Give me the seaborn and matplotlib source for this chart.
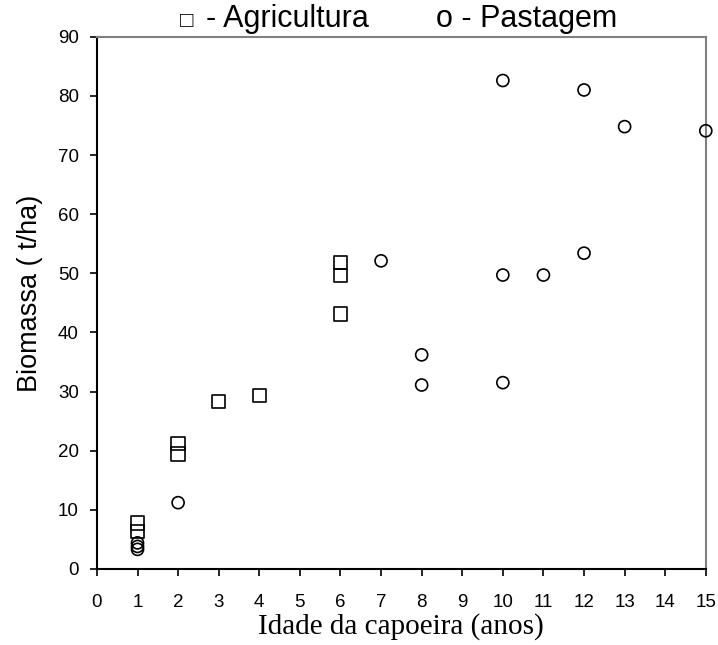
import matplotlib
matplotlib.use("Agg")
import matplotlib.pyplot as plt
import seaborn as sns
import pandas as pd

# Agricultura (squares)
agri_x = [1, 1, 2, 2, 3, 4, 6, 6, 6]
agri_y = [7.8, 6.3, 21.2, 19.4, 28.3, 29.3, 51.8, 49.6, 43.1]

# Pastagem (circles)
past_x = [1, 1, 1, 2, 7, 8, 8, 10, 10, 10, 11, 12, 12, 13, 15]
past_y = [4.4, 3.8, 3.3, 11.2, 52.1, 36.2, 31.1, 82.6, 49.7, 31.5, 49.7, 81.0, 53.4, 74.8, 74.1]

x_ticks = list(range(0, 16))
y_ticks = list(range(0, 91, 10))

sns.set_style("white")
plt.rcParams['font.family'] = ['Liberation Sans', 'DejaVu Sans']
for k in ["text.color", "axes.labelcolor", "xtick.color", "ytick.color"]:
    plt.rcParams[k] = "black"

fig = plt.figure(figsize=(7.18, 6.45), dpi=100)
ax = fig.add_axes([0.135, 0.118, 0.848, 0.825])

df_a = pd.DataFrame({"x": agri_x, "y": agri_y})
df_p = pd.DataFrame({"x": past_x, "y": past_y})

sns.scatterplot(data=df_a, x="x", y="y", marker="s", s=95, facecolors="none",
                edgecolor="black", linewidth=1.2, ax=ax, zorder=3, clip_on=False)
sns.scatterplot(data=df_p, x="x", y="y", marker="o", s=75, facecolors="none",
                edgecolor="black", linewidth=1.2, ax=ax, zorder=3, clip_on=False)

ax.set_xlim(0, 15)
ax.set_ylim(0, 90)
ax.set_xticks(x_ticks)
ax.set_yticks(y_ticks)
ax.tick_params(axis="both", which="major", labelsize=13.5, direction="out",
               length=5, width=1.2, color="black", bottom=True, left=True)
ax.tick_params(axis="x", pad=13)
ax.tick_params(axis="y", pad=8)

for side in ["left", "bottom"]:
    ax.spines[side].set_color("black")
    ax.spines[side].set_linewidth(1.5)
for side in ["top", "right"]:
    ax.spines[side].set_color("#808080")
    ax.spines[side].set_linewidth(1.5)

ax.set_xlabel("Idade da capoeira (anos)", fontsize=21,
              family=["Liberation Serif", "DejaVu Serif"])
ax.xaxis.label.set_va("baseline")
ax.xaxis.set_label_coords(0.5, -0.122)

ax.set_ylabel("Biomassa ( t/ha)", fontsize=19.5)
ax.yaxis.label.set_va("baseline")
ax.yaxis.set_label_coords(-0.0985, 0.518)

ybase = 1 - 27 / 645
fig.text(180 / 718, ybase, "\u25a1", fontsize=16, ha="left", va="baseline")
fig.text(206 / 718, ybase, "- Agricultura", fontsize=22,
         ha="left", va="baseline")
fig.text(436 / 718, ybase, "o - Pastagem", fontsize=22,
         ha="left", va="baseline")

fig.savefig("out.png", dpi=100)
